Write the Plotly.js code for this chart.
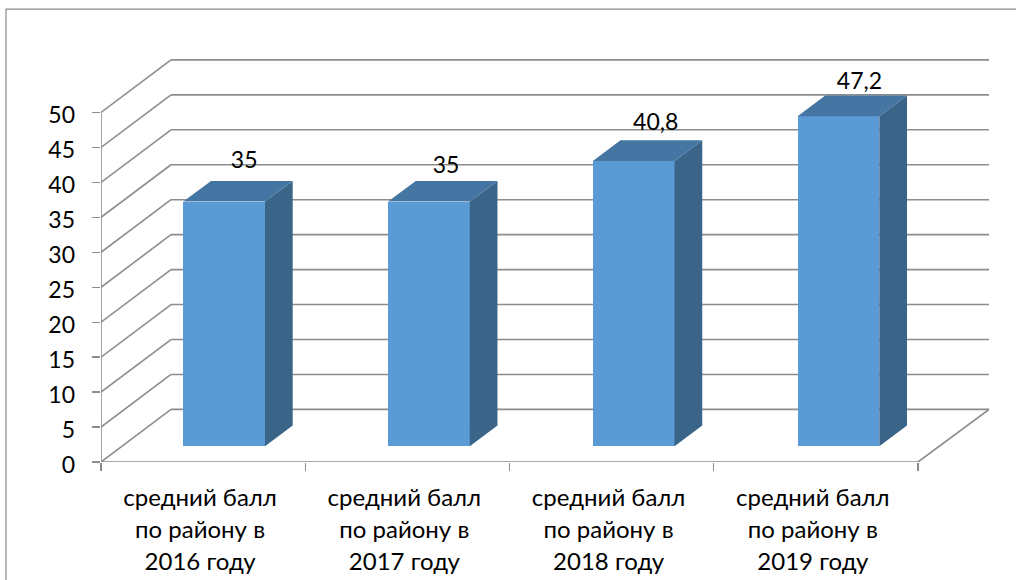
<!DOCTYPE html>
<html>
<head>
<meta charset="utf-8">
<script src="https://cdn.plot.ly/plotly-3.0.1.min.js"></script>
<style>html,body{margin:0;padding:0;background:#fff;overflow:hidden}#chart{width:1016px;height:580px}</style>
</head>
<body>
<div id="chart"></div>
<script>
var categories = ["средний балл<br>по району в<br>2016 году","средний балл<br>по району в<br>2017 году","средний балл<br>по району в<br>2018 году","средний балл<br>по району в<br>2019 году"];
var values = [35, 35, 40.8, 47.2];
var valueLabels = ["35", "35", "40,8", "47,2"];
var yTicks = [0,5,10,15,20,25,30,35,40,45,50];

// page geometry in pixels
var W=1016,H=580,L=101,R=989,T=59.3,B=461.7;
var pxX=204.25, pxY=6.98;
var font="Lato, Carlito, 'Open Sans', sans-serif", ink="#000000", grid="#8c8c8c";
// 3-D look, in axis units
var wallDx=70/pxX, wallDy=52.5/pxY;
var barW=81.7/pxX, barDx=27.7/pxX, barDy=20.7/pxY, barBase=15.7/pxY;
var centers=values.map(function(v,i){return i*1.0025+0.603;});
var lift=[5.6,4.95,5.3,4.7];
var nudge=[0.098,0.084,0.108,0.103];

var traces=[];
traces.push({type:'bar',x:centers,y:values,base:barBase,width:barW,hoverinfo:'skip',
  marker:{color:'#5B9BD5',line:{width:0}},showlegend:false});
values.forEach(function(v,i){
  var x0=centers[i]-barW/2,x1=centers[i]+barW/2,y0=barBase,y1=barBase+v;
  traces.push({type:'scatter',mode:'lines',x:[x1,x1+barDx,x1+barDx,x1,x1],y:[y0,y0+barDy,y1+barDy,y1,y0],
    fill:'toself',fillcolor:'#3A6588',line:{width:0},hoverinfo:'skip',showlegend:false});
  traces.push({type:'scatter',mode:'lines',x:[x0,x0+barDx,x1+barDx,x1,x0],y:[y1,y1+barDy,y1+barDy,y1,y1],
    fill:'toself',fillcolor:'#4576A3',line:{width:0},hoverinfo:'skip',showlegend:false});
});
traces.push({type:'scatter',mode:'text',x:centers.map(function(c,i){return c+nudge[i];}),
  y:values.map(function(v,i){return v+barBase+lift[i];}),text:valueLabels,
  textfont:{family:font,size:23,color:ink},textposition:'middle center',cliponaxis:false,hoverinfo:'skip',showlegend:false});

var shapes=[];
function seg(x0,y0,x1,y1,w){shapes.push({type:'line',layer:'below',xref:'x',yref:'y',x0:x0,y0:y0,x1:x1,y1:y1,line:{color:grid,width:w||1.6}});}
var xMax=(R-L)/pxX, yMax=(B-T)/pxY;
yTicks.forEach(function(t){
  seg(0,t,wallDx,t+wallDy);
  seg(wallDx,t+wallDy,xMax,t+wallDy);
});
seg(0,0,0,50);
seg(0,0,4,0);
seg(4,0,xMax,wallDy);
shapes.push({type:'rect',layer:'below',xref:'paper',yref:'paper',
  x0:(6-L)/(R-L),x1:(1040-L)/(R-L),y0:(B-620)/(B-T),y1:(B-9.5)/(B-T),line:{color:'#8a8a8a',width:1.2},fillcolor:'rgba(0,0,0,0)'});

function sized(s,px){return '<span style="font-size:'+px+'px">'+s+'</span>';}
var tickText=categories.map(function(c){return c.split('<br>').map(function(s){return sized(s,24);}).join('<br>');});
var yTickText=yTicks.map(function(t){return sized(String(t),23);});

var layout={
  width:W,height:H,margin:{l:L,r:W-R,t:T,b:H-B,pad:0},autosize:false,
  paper_bgcolor:'#fff',plot_bgcolor:'rgba(0,0,0,0)',showlegend:false,bargap:0,
  xaxis:{type:'linear',range:[0,xMax],showgrid:false,zeroline:false,showline:false,
    tickmode:'array',tickvals:[0.485,1.485,2.485,3.485],ticktext:tickText,ticks:'',ticklabelstandoff:18,
    tickfont:{family:font,size:24.8,color:ink},tickangle:0,
    minor:{tickmode:'array',tickvals:[0,1,2,3,4],ticks:'outside',ticklen:8,tickwidth:1.3,tickcolor:grid,showgrid:false}},
  yaxis:{range:[0,yMax],showgrid:false,zeroline:false,showline:false,
    tickmode:'array',tickvals:yTicks,ticktext:yTickText,ticks:'outside',ticklen:8,tickwidth:1.3,tickcolor:grid,ticklabelstandoff:11,
    tickfont:{family:font,size:30,color:ink}},
  shapes:shapes
};
Plotly.newPlot('chart',traces,layout,{displayModeBar:false,staticPlot:true});
</script>
</body>
</html>
